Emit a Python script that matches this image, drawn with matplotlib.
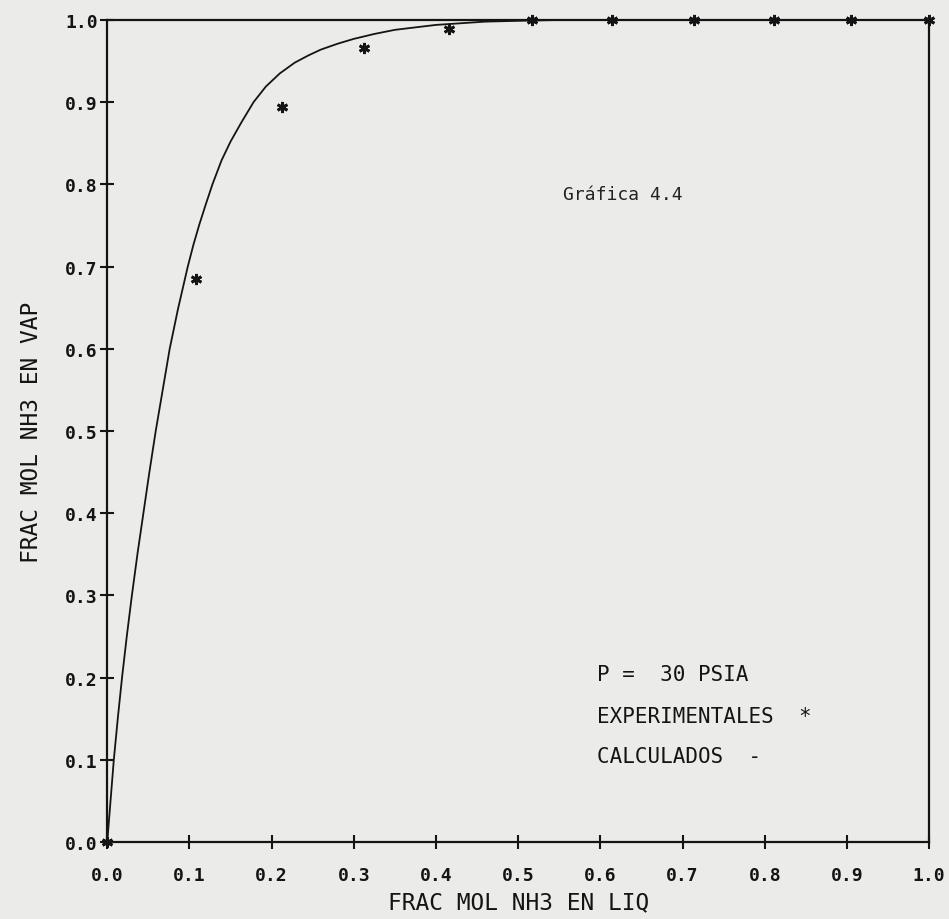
import matplotlib.pyplot as plt

# experimental points (liquid mole fraction NH3, vapour mole fraction NH3)
x_exp = [0.0, 0.108, 0.213, 0.313, 0.416, 0.517, 0.614, 0.714, 0.811, 0.905, 1.0]
y_exp = [0.0, 0.685, 0.894, 0.966, 0.989, 1.0, 1.0, 1.0, 1.0, 1.0, 1.0]

# calculated curve
x_calc = [0.0, 0.004, 0.008, 0.013, 0.018, 0.024, 0.030, 0.037, 0.044, 0.051,
          0.059, 0.067, 0.076, 0.086, 0.098, 0.105, 0.112, 0.120, 0.128, 0.139,
          0.150, 0.163, 0.178, 0.193, 0.210, 0.228, 0.245, 0.260, 0.280, 0.300,
          0.325, 0.350, 0.375, 0.400, 0.430, 0.460, 0.500, 0.550, 0.600, 0.800, 1.0]
y_calc = [0.0, 0.050, 0.100, 0.152, 0.200, 0.252, 0.300, 0.352, 0.400, 0.448,
          0.500, 0.547, 0.600, 0.648, 0.700, 0.727, 0.751, 0.776, 0.800, 0.829,
          0.852, 0.875, 0.900, 0.919, 0.935, 0.948, 0.957, 0.964, 0.971, 0.977,
          0.983, 0.988, 0.991, 0.994, 0.996, 0.998, 0.999, 1.0, 1.0, 1.0, 1.0]

ticks = [0.0, 0.1, 0.2, 0.3, 0.4, 0.5, 0.6, 0.7, 0.8, 0.9, 1.0]
tick_labels = ['0.0', '0.1', '0.2', '0.3', '0.4', '0.5', '0.6', '0.7', '0.8', '0.9', '1.0']

bg = '#ebebe9'
ink = '#141414'
mono = 'DejaVu Sans Mono'

fig = plt.figure(figsize=(9.49, 9.2), dpi=100, facecolor=bg)
ax = fig.add_axes([0.113, 0.0837, 0.866, 0.8935], facecolor=bg)

ax.plot(x_calc, y_calc, color=ink, lw=1.3, zorder=3, solid_joinstyle='round')
ax.plot(x_exp, y_exp, linestyle='none', marker=(6, 2, 0), markersize=8,
        markeredgewidth=2.0, color=ink, zorder=4, clip_on=False)

ax.set_xlim(0, 1)
ax.set_ylim(0, 1)
ax.set_xticks(ticks)
ax.set_yticks(ticks)
ax.set_xticklabels(tick_labels, fontfamily=mono, fontsize=13, fontweight='bold')
ax.set_yticklabels(tick_labels, fontfamily=mono, fontsize=13, fontweight='bold')
ax.tick_params(direction='inout', length=10, width=1.5, color=ink,
               labelcolor=ink, pad=2)
ax.tick_params(axis='x', pad=12)

for s in ax.spines.values():
    s.set_linewidth(1.6)
    s.set_color(ink)

ax.set_xlabel('FRAC MOL NH3 EN LIQ', fontfamily=mono, fontsize=16.5,
              color=ink, labelpad=5)
ax.set_ylabel('FRAC MOL NH3 EN VAP', fontfamily=mono, fontsize=16.5,
              color=ink, labelpad=16)

ax.text(0.555, 0.788, 'Gráfica 4.4', transform=ax.transAxes, fontfamily=mono,
        fontsize=13, color='#222222', va='center')
ax.text(0.596, 0.204, 'P =  30 PSIA', transform=ax.transAxes, fontfamily=mono,
        fontsize=15, color=ink, va='center')
ax.text(0.596, 0.153, 'EXPERIMENTALES  *', transform=ax.transAxes, fontfamily=mono,
        fontsize=15, color=ink, va='center')
ax.text(0.596, 0.105, 'CALCULADOS  -', transform=ax.transAxes, fontfamily=mono,
        fontsize=15, color=ink, va='center')

fig.savefig('out.png', dpi=100, facecolor=bg)
